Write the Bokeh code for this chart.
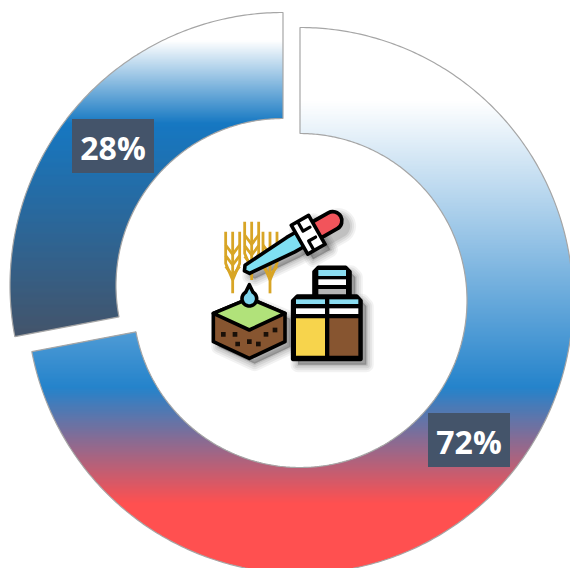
import numpy as np
from bokeh.plotting import figure
from bokeh.models import Range1d
from bokeh.core.properties import value
from bokeh.embed import file_html
from bokeh.resources import INLINE

# ---- data ----
categories = ["Segment A", "Segment B"]
shares = [72, 28]
labels = ["72%", "28%"]

# ---- layout / style ----
W, H = 570, 568
R_OUT, R_IN = 273, 167
CENTERS = [(299.5, 300), (282.5, 285)]
GRADIENTS = [
    [(100, "#ffffff"), (387, "#2583cb"), (503, "#ff5050")],
    [(40, "#ffffff"), (123, "#1678c2"), (337, "#44546a")],
]
LABEL_POS = [(468.5, 439.5), (112.5, 145.5)]
BOX_W, BOX_H = 82, 54
BOX_COLOR = "#44546a"
EDGE = "#a6a6a6"

p = figure(width=W, height=H, x_range=Range1d(0, W), y_range=Range1d(H, 0),
           output_backend="svg", toolbar_location=None, min_border=0,
           outline_line_color=None, background_fill_color="white", border_fill_color="white")
p.axis.visible = False
p.grid.visible = False


def hex2rgb(c):
    return np.array([int(c[i:i + 2], 16) for i in (1, 3, 5)], float)


def grad_color(stops, y):
    ys = [s[0] for s in stops]
    cols = np.array([hex2rgb(s[1]) for s in stops])
    rgb = [np.interp(y, ys, cols[:, k]) for k in range(3)]
    return "#%02x%02x%02x" % tuple(int(round(v)) for v in rgb)


def sector(cx, cy, a0, a1):
    """Ring sector; angles in degrees clockwise from 12 o'clock."""
    n = max(int(abs(a1 - a0) * 1.5), 8)
    t = np.radians(np.linspace(a0, a1, n))
    xo, yo = cx + R_OUT * np.sin(t), cy - R_OUT * np.cos(t)
    xi, yi = cx + R_IN * np.sin(t[::-1]), cy - R_IN * np.cos(t[::-1])
    return list(zip(np.r_[xo, xi], np.r_[yo, yi]))


def clip(poly, y0, keep_below):
    out = []
    for i, (x1, y1) in enumerate(poly):
        x2, y2 = poly[(i + 1) % len(poly)]
        in1 = (y1 >= y0) if keep_below else (y1 <= y0)
        in2 = (y2 >= y0) if keep_below else (y2 <= y0)
        if in1:
            out.append((x1, y1))
        if in1 != in2:
            s = (y0 - y1) / (y2 - y1)
            out.append((x1 + s * (x2 - x1), y0))
    return out


# start angle of each slice, from the shares
angles = [(0, shares[0] * 3.6), (-shares[1] * 3.6, 0)]

for (cx, cy), (a0, a1), stops in zip(CENTERS, angles, GRADIENTS):
    poly = sector(cx, cy, a0, a1)
    ys_all = [q[1] for q in poly]
    xs_s, ys_s, cs = [], [], []
    for row in range(int(np.floor(min(ys_all))), min(int(np.ceil(max(ys_all))), H)):
        c = clip(clip(poly, row, True), row + 1.5, False)
        if len(c) < 3:
            continue
        xs_s.append([q[0] for q in c])
        ys_s.append([q[1] for q in c])
        cs.append(grad_color(stops, row + 0.5))
    p.patches(xs_s, ys_s, fill_color=cs, line_color=None)
    p.patch([q[0] for q in poly] + [poly[0][0]], [q[1] for q in poly] + [poly[0][1]],
            fill_alpha=0, line_color=EDGE, line_width=1.2)


# ---- icon (zoom coordinates -> page pixels) ----
def Z(pts):
    return [189.5 + a / 3 for a, b in pts], [189.5 + b / 3 for a, b in pts]


def shape(pts, fill, lw=3.6, line="black"):
    x, y = Z(pts)
    p.patch(x, y, fill_color=fill, line_color=line, line_width=lw, line_join="round")


def block(x0, y0, x1, y1, fill):
    x, y = Z([(x0, y0), (x1, y1)])
    p.quad(left=x[0], right=x[1], top=y[0], bottom=y[1], fill_color=fill, line_color=None)


def seg(pts, color, w, cap="round", alpha=1.0):
    x, y = Z(pts)
    p.line(x, y, line_color=color, line_width=w, line_cap=cap, line_join="round", line_alpha=alpha)


O = np.array([172.0, 238.0])
D = np.array([0.869, -0.494])
N = np.array([0.494, 0.869])


def axis_pts(uv):
    return [tuple(O + u * D + v * N) for u, v in uv]


tube = [(0, -14), (150, -25), (190, -25), (190, 25), (150, 25), (0, 14), (-10, 0)]
collar = [(180, -50), (240, -50), (240, 50), (180, 50)]
cube = [(70, 370), (178, 325), (285, 370), (285, 455), (178, 505), (70, 455)]
jar_back = [(385, 232), (467, 232), (480, 245), (480, 320), (372, 320), (372, 245)]
jar_front = [(322, 318), (500, 318), (513, 332), (513, 508), (308, 508), (308, 332)]

# soft shadow
SH = 16
for w, a in [(15, 0.05), (11, 0.06), (7, 0.07), (3, 0.09)]:
    for pts in (cube, jar_back, jar_front, axis_pts(tube), axis_pts(collar)):
        q = [(u + SH, v + SH) for u, v in pts]
        x, y = Z(q)
        p.patch(x, y, fill_color="black", fill_alpha=a, line_color="black", line_alpha=a,
                line_width=w, line_join="round")
    seg([tuple(np.array(axis_pts([(250, 0)])[0]) + SH), tuple(np.array(axis_pts([(295, 0)])[0]) + SH)],
        "black", 21 + w, alpha=a)

# wheat
GOLD = "#d8a526"
for c, t, stem in [(128, 125, 310), (185, 95, 270), (240, 125, 310)]:
    seg([(c, t), (c, stem)], GOLD, 2.8, "butt")
    seg([(c - 21, t), (c - 21, t + 95), (c, t + 145)], GOLD, 2.8, "butt")
    seg([(c + 21, t), (c + 21, t + 95), (c, t + 145)], GOLD, 2.8, "butt")
    for dy in (40, 72, 104):
        seg([(c - 21, t + dy), (c, t + dy + 28), (c + 21, t + dy)], GOLD, 2.8, "butt")

# dropper
seg(axis_pts([(250, 0), (295, 0)]), "black", 22)
seg(axis_pts([(245, 0), (295, 0)]), "#f2545b", 14.5)
shape(axis_pts(tube), "#7fe0f2")
shape(axis_pts(collar), "white")
seg(axis_pts([(202, -46), (202, -17), (226, -17)]), "black", 3.2)
seg(axis_pts([(202, 46), (202, 17), (226, 17)]), "black", 3.2)

# soil cube
shape(cube, "#875530")
shape([(70, 370), (178, 325), (285, 370), (178, 420)], "#b1e27a")
for sx, sy in [(100, 433), (135, 433), (143, 462), (178, 455), (205, 462), (228, 433), (255, 420)]:
    block(sx - 7, sy - 7, sx + 7, sy + 7, "#1a1008")

# drop
t = np.radians(np.linspace(-60, 240, 40))
drop = [(178, 284)] + [(178 + 22 * np.cos(a), 326 + 22 * np.sin(a)) for a in t]
shape(drop, "#7fd6ee")

# jars
shape(jar_back, "black")
block(385, 240, 468, 258, "#8adcf0")
block(385, 268, 468, 285, "white")
block(385, 297, 468, 318, "#b5b5b5")
shape(jar_front, "black")
for l, r, fill in [(318, 405, "#f7d44c"), (418, 505, "#875530")]:
    block(l, 328, r, 342, "#8adcf0")
    block(l, 355, r, 372, "white")
    block(l, 385, r, 497, fill)

# ---- value labels ----
for (lx, ly), txt in zip(LABEL_POS, labels):
    p.rect([lx], [ly], width=BOX_W, height=BOX_H, fill_color=BOX_COLOR, line_color=None)
    p.text([lx], [ly + 1], text=[txt], text_color="white", text_font=value("Open Sans"),
           text_font_style="bold", text_font_size="32px", text_align="center", text_baseline="middle")

open("out.html", "w").write(file_html(p, INLINE))
